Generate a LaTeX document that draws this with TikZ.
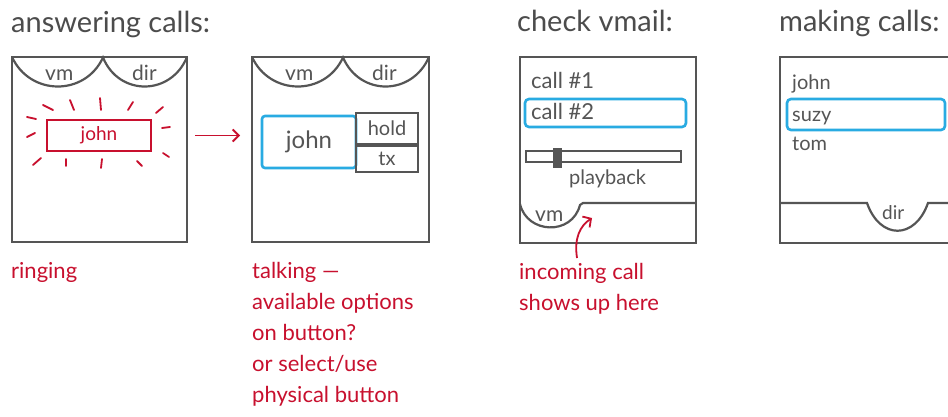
\documentclass[tikz,border=0pt]{standalone}
\usepackage{fontspec}
\setmainfont{Lato}
\usetikzlibrary{arrows.meta,calc}
\definecolor{ink}{HTML}{555555}
\definecolor{pen}{HTML}{C8102E}
\definecolor{hilite}{HTML}{29ABE2}
\begin{document}
\begin{tikzpicture}[x=1pt,y=-1pt,
  screen/.style={draw=ink,line width=2.6pt,inner sep=0pt,outer sep=0pt},
  tab/.style={draw=ink,line width=2.2pt},
  txt/.style={anchor=base west,inner sep=0pt,text=ink,font=\fontsize{20}{22}\selectfont},
  tablbl/.style={txt,font=\fontsize{21}{24}\selectfont},
  title/.style={anchor=base west,inner sep=0pt,text=ink!90!black,font=\fontsize{29}{32}\selectfont},
  note/.style={anchor=base west,inner sep=0pt,text=pen,font=\fontsize{22}{24}\selectfont},
  pick/.style={draw=hilite,line width=2.6pt,rounded corners=3pt,inner sep=0pt},
  ray/.style={draw=pen,line width=1.8pt,line cap=round},
  penarrow/.style={draw=pen,line width=1.8pt,-{Straight Barb[length=6pt,width=12pt]}}
]
\useasboundingbox (0,0) rectangle (948,417);
\clip (0,0) rectangle (948,417);
\fill[white] (0,0) rectangle (948,417);

% ---- titles
\node[title] (t1) at (11,33) {answering calls:};
\node[title] (t3) at (517,32) {check vmail:};
\node[title] (t4) at (779,32) {making calls:};

% ---- screen 1: ringing
\node[screen,minimum width=175pt,minimum height=185pt] (s1) at (99.5,149.5) {};
\coordinate (s1m) at (103,57.5);
\draw[tab] (s1.north west) .. controls +(18,39) and +(-18,39) .. (s1m)
           .. controls +(16,39) and +(-16,39) .. (s1.north east);
\node[tablbl] (vm1) at (45,81) {vm};
\node[tablbl] (dir1) at (132,81) {dir};
\node[draw=pen,line width=2pt,minimum width=104pt,minimum height=31pt,inner sep=0pt,
      text=pen,font=\fontsize{19}{22}\selectfont] (r1) at (99,135.5) {john};
\foreach \a/\b in {{43,105}/{53,110},{70,100}/{74,110},{100,98}/{101,110},
                   {133,102}/{128,110},{163,107}/{156,113},{27,117}/{36,119},
                   {162,128}/{170,127},{27,137}/{35,133},{163,153}/{169,157},
                   {33,165}/{41,158},{66,159}/{66,166},{102,159}/{101,168},
                   {137,161}/{142,166}}
  \draw[ray] (\a) -- (\b);

% ---- screen 2: talking
\node[screen,minimum width=177pt,minimum height=185pt] (s2) at (340.5,149.5) {};
\coordinate (s2m) at (343,57.5);
\draw[tab] (s2.north west) .. controls +(18,39) and +(-18,39) .. (s2m)
           .. controls +(17,39) and +(-17,39) .. (s2.north east);
\node[tablbl] (vm2) at (285,81) {vm};
\node[tablbl] (dir2) at (372,81) {dir};
\node[pick,minimum width=94pt,minimum height=52pt,text=ink,
      font=\fontsize{24}{26}\selectfont] (b2) at (309,142) {john};
\node[draw=ink,line width=2.2pt,minimum width=62pt,minimum height=31pt,inner sep=0pt,
      text=ink,font=\fontsize{20}{22}\selectfont] (h2) at (387,128.5) {hold};
\node[draw=ink,line width=2.2pt,minimum width=62pt,minimum height=26pt,inner sep=0pt,
      text=ink,font=\fontsize{20}{22}\selectfont,anchor=north] (x2) at (h2.south) {tx};

\draw[penarrow,shorten <=8pt,shorten >=12pt] (s1.east |- r1.center) -- (s2.west |- r1.center);

% ---- screen 3: voicemail
\node[screen,minimum width=176pt,minimum height=186pt] (s3) at (608,150) {};
\node[txt,font=\fontsize{22}{24}\selectfont] (c1) at (531,89) {call \#1};
\node[pick,minimum width=161pt,minimum height=28pt,rounded corners=4pt] (c2box) at (605.5,113) {};
\node[txt,font=\fontsize{22}{24}\selectfont] (c2) at (531,120) {call \#2};
\node[draw=ink,line width=2pt,minimum width=155pt,minimum height=11pt,inner sep=0pt] (sl) at (603.5,156.5) {};
\node[fill=ink,minimum width=9pt,minimum height=20pt,inner sep=0pt] (kn) at (557,158) {};
\node[txt] (pb) at (569,184) {playback};
\draw[tab] (s3.west |- 0,204) .. controls (527,234) and (572,236) .. (580,205)
           -- (583,203) -- (s3.east |- 0,203);
\node[tablbl] (vm3) at (535,221) {vm};

\coordinate (inc) at (577,258);
\coordinate (tip) at (592,218);
\draw[penarrow,-{Straight Barb[length=6pt,width=13pt]}] (inc) .. controls (574,238) and (580,226) .. (tip);

% ---- screen 4: directory
\node[screen,minimum width=176pt,minimum height=186pt] (s4) at (868,150) {};
\node[txt] (n1) at (792,90) {john};
\node[pick,minimum width=158pt,minimum height=31pt,rounded corners=4pt] (n2box) at (866,114.5) {};
\node[txt] (n2) at (792,122) {suzy};
\node[txt] (n3) at (792,150) {tom};
\draw[tab] (s4.west |- 0,203) -- (867,203) .. controls (880,240) and (915,240) .. (928,203)
           -- (s4.east |- 0,203);
\node[tablbl,font=\fontsize{19}{22}\selectfont] (dir4) at (882,219) {dir};

% ---- notes
\node[note] (l1) at (11,278) {ringing};
\node[note] (l2a) at (252,278) {talking —};
\node[note] (l2b) at (252,309) {available options};
\node[note] (l2c) at (252,340) {on button?};
\node[note] (l2d) at (252,371) {or select/use};
\node[note] (l2e) at (252,402) {physical button};
\node[note] (l3a) at (519,279) {incoming call};
\node[note] (l3b) at (519,310) {shows up here};
\end{tikzpicture}
\end{document}
